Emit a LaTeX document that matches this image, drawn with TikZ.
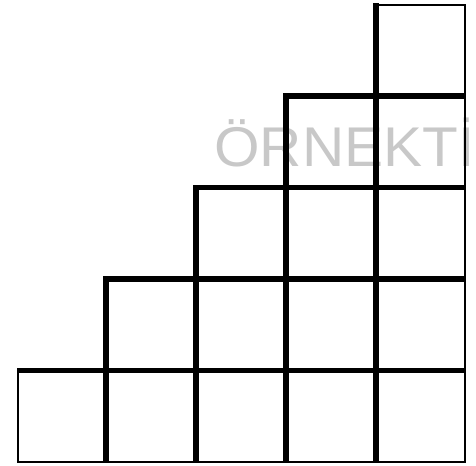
\documentclass[tikz,border=0pt]{standalone}
\usepackage{fontspec}
\setmainfont{Liberation Sans}
\newfontfamily\markfont[FakeStretch=1.045]{Liberation Sans}
\usetikzlibrary{positioning}
\definecolor{markgray}{HTML}{C8C8C8}

\begin{document}
\begin{tikzpicture}[x=0.75pt, y=-0.75pt,
  edge/.style={line width=4pt, black},
  rim/.style={line width=1.9pt, black},
  watermark/.style={font=\markfont\fontsize{42}{42}\selectfont, markgray, inner sep=0pt, anchor=base west},
]
  \useasboundingbox (0,0) rectangle (476,466);
  \node[watermark] (stamp) at (214,166.5) {ÖRNEKTİ};

  % outer rim
  \draw[rim] (18,370.5) -- (18,462) -- (465,462) -- (465,5) -- (376,5);

  % staircase
  \draw[edge, miter limit=4] (17,370.5) -| (106,279) -| (196,187.5) -| (286,96) -| (376,3);

  % inner lines
  \foreach \x/\y in {106/370.5, 196/279, 286/187.5, 376/96}
    \draw[edge] (\x,\y) -- (465,\y);
  \foreach \x/\y in {106/370.5, 196/279, 286/187.5, 376/96}
    \draw[edge] (\x,\y) -- (\x,462);
\end{tikzpicture}
\end{document}
